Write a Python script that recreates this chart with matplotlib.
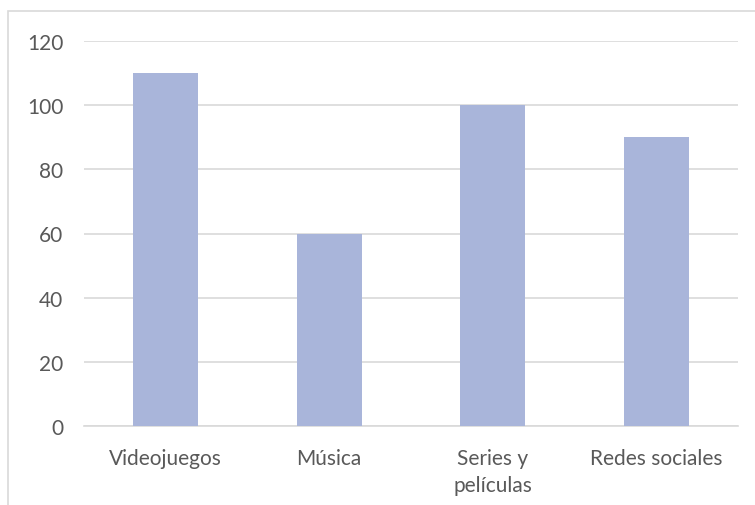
import matplotlib.pyplot as plt
from matplotlib.patches import Rectangle

# Datos del grafico
categorias = ['Videojuegos', 'Música', 'Series y\npelículas', 'Redes sociales']
valores = [110, 60, 100, 90]
ticks_y = [0, 20, 40, 60, 80, 100, 120]

plt.rcParams['font.family'] = ['Lato', 'DejaVu Sans']

fig = plt.figure(figsize=(7.55, 5.06), dpi=100)
ax = fig.add_axes([84 / 755, 79 / 506, 654 / 755, 385 / 506])

# Borde del area del grafico (recortado como en la captura)
fig.patches.append(Rectangle((8 / 755, -0.1), 1.2, (506 - 12) / 506 + 0.1,
                             transform=fig.transFigure, fill=False,
                             edgecolor='#D9D9D9', linewidth=1.2))

x = range(len(categorias))
ax.bar(x, valores, width=0.4, color='#A9B5DA', zorder=3)

ax.set_xlim(-0.5, len(categorias) - 0.5)
ax.set_ylim(0, 120)
ax.set_yticks(ticks_y)
ax.set_xticks(list(x))
ax.set_xticklabels(categorias, linespacing=1.45)

ax.grid(axis='y', color='#D9D9D9', linewidth=1.2, zorder=0)
for lado in ['top', 'right', 'left']:
    ax.spines[lado].set_visible(False)
ax.spines['bottom'].set_color('#D9D9D9')
ax.spines['bottom'].set_linewidth(1.2)

ax.tick_params(axis='both', length=0, labelsize=15, colors='#595959')
ax.tick_params(axis='y', pad=15)
ax.tick_params(axis='x', pad=16)
for t in ax.get_xticklabels():
    t.set_verticalalignment('top')

fig.savefig('out.png', dpi=100)
